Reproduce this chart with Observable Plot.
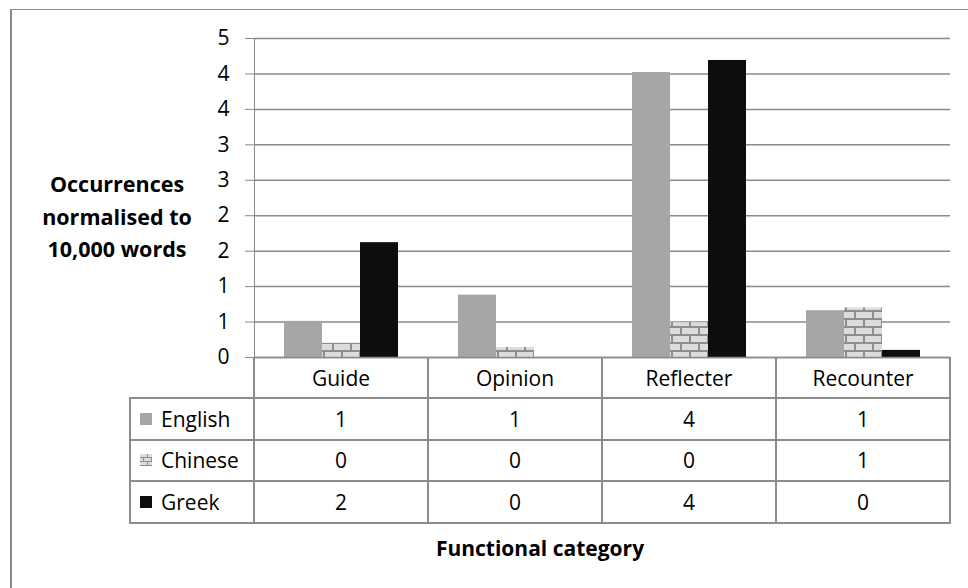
<!DOCTYPE html>
<html><head><meta charset="utf-8">
<script src="https://cdn.jsdelivr.net/npm/d3@7"></script>
<script src="https://cdn.jsdelivr.net/npm/@observablehq/plot@0.6"></script>
<style>
body{margin:0;background:#fff;overflow:hidden;font-family:"Open Sans",sans-serif;}
#wrap{position:relative;width:968px;height:588px;overflow:hidden;background:#fff;}
#frame{position:absolute;left:10px;top:9px;width:1000px;height:700px;border-left:2px solid #8a8a8a;border-top:1.5px solid #8a8a8a;pointer-events:none;z-index:5;}
.ab{position:absolute;}
.hl{position:absolute;height:2px;background:#8c8c8c;}
.vl{position:absolute;width:2px;background:#8c8c8c;}
.cell{position:absolute;display:flex;align-items:center;justify-content:center;font-size:21px;color:#000;white-space:nowrap;}
.ytitle{position:absolute;left:27px;top:168px;width:180px;text-align:center;font-weight:bold;font-size:21.5px;line-height:32.5px;color:#000;}
.xtitle{position:absolute;left:340px;top:532px;width:400px;text-align:center;font-weight:bold;font-size:21px;line-height:32px;color:#000;}
</style></head>
<body><div id="wrap"><div id="chart" class="ab" style="left:0;top:0"></div><div id="frame"></div></div>
<script>
const categories = ["Guide", "Opinion", "Reflecter", "Recounter"];
const series = ["English", "Chinese", "Greek"];
const english = [0.51, 0.88, 4.02, 0.66];
const chinese = [0.20, 0.14, 0.49, 0.70];
const greek = [1.62, 0, 4.19, 0.10];
const yTicks = [0, 0.5, 1, 1.5, 2, 2.5, 3, 3.5, 4, 4.5];
const colors = ["#a6a6a6", "url(#brick)", "#0d0d0d"];
const yTitle = ["Occurrences", "normalised to", "10,000 words"];
const xTitle = "Functional category";

const values = [english, chinese, greek];
const rows = categories.flatMap((c, i) => series.map((s, j) => ({category: c, series: s, value: values[j][i]})));

const plot = Plot.plot({
  width: 968, height: 360,
  marginLeft: 253, marginRight: 18, marginTop: 38, marginBottom: 3,
  style: {background: "transparent", color: "#8a8a8a", fontFamily: "Open Sans", fontSize: "21px", overflow: "visible"},
  facet: {data: rows, x: "category"},
  fx: {domain: categories, padding: 0, axis: null},
  x: {domain: series, paddingInner: 0, paddingOuter: 0.75, axis: null},
  y: {domain: [0, 4.5], ticks: yTicks, tickFormat: d => Math.round(d), tickSize: 9, tickPadding: 16, line: true, label: null},
  color: {domain: series, range: colors},
  marks: [
    Plot.ruleY(yTicks, {stroke: "#8a8a8a", strokeWidth: 1.5}),
    Plot.barY(rows, {x: "series", y: "value", fill: "series"}),
    Plot.ruleY([0], {stroke: "#8a8a8a", strokeWidth: 1.5})
  ]
});

const svg = d3.select(plot);
svg.selectAll("text").attr("fill", "#000").attr("stroke", "none");
const defs = svg.insert("defs", ":first-child");
function brick(id, w, h, bw, bh) {
  const p = defs.append("pattern").attr("id", id).attr("patternUnits", "userSpaceOnUse")
    .attr("width", w).attr("height", h);
  p.append("rect").attr("width", w).attr("height", h).attr("fill", "#8e8e8e");
  p.append("rect").attr("x", 0).attr("y", 0).attr("width", bw).attr("height", bh).attr("fill", "#dcdcdc");
  p.append("rect").attr("x", -w / 2).attr("y", h / 2).attr("width", bw).attr("height", bh).attr("fill", "#dcdcdc");
  p.append("rect").attr("x", w / 2).attr("y", h / 2).attr("width", bw).attr("height", bh).attr("fill", "#dcdcdc");
}
brick("brick", 18, 16, 16, 6);
brick("brickS", 8, 8, 7, 3);
document.getElementById("chart").appendChild(plot);

// data table under the chart, columns from the fx scale
const wrap = document.getElementById("wrap");
const fx = plot.scale("fx");
const bw = fx.bandwidth;
const colX = categories.map(c => fx.apply(c));
const left0 = colX[0];
const right0 = colX[colX.length - 1] + bw;
const labelLeft = 130;
const headTop = 357, headH = 41, rowH = 41.5;
const rowTop = i => headTop + headH + i * rowH;
const bottom = rowTop(series.length);

function add(cls, css, html) {
  const d = document.createElement("div");
  d.className = cls;
  Object.assign(d.style, css);
  if (html != null) d.innerHTML = html;
  wrap.appendChild(d);
  return d;
}
// horizontal lines
for (let i = 0; i <= series.length; i++) {
  add("hl", {left: labelLeft - 1 + "px", top: rowTop(i) - 1 + "px", width: right0 - labelLeft + 2 + "px"});
}
// vertical lines
add("vl", {left: labelLeft - 1 + "px", top: rowTop(0) - 1 + "px", height: bottom - rowTop(0) + 2 + "px"});
add("vl", {left: left0 - 1 + "px", top: headTop + "px", height: bottom - headTop + 1 + "px"});
colX.forEach((x, i) => add("vl", {left: x + bw - 1 + "px", top: headTop + "px", height: bottom - headTop + 1 + "px"}));
// header
categories.forEach((c, i) => add("cell", {left: colX[i] + "px", top: headTop + "px", width: bw + "px", height: headH + "px"}, c));
// rows
const swatch = [
  '<span style="display:inline-block;width:12px;height:12px;background:#a6a6a6"></span>',
  '<svg width="12" height="12" style="display:block"><rect width="12" height="12" fill="url(#brickS)"/></svg>',
  '<span style="display:inline-block;width:12px;height:12px;background:#0d0d0d"></span>'
];
series.forEach((s, j) => {
  add("cell", {left: "140px", top: rowTop(j) + "px", width: "12px", height: rowH + "px"}, swatch[j]);
  add("cell", {left: "161px", top: rowTop(j) + "px", height: rowH + "px", justifyContent: "flex-start"}, s);
  categories.forEach((c, i) => add("cell", {left: colX[i] + "px", top: rowTop(j) + "px", width: bw + "px", height: rowH + "px"}, String(Math.round(values[j][i]))));
});
// titles
add("ytitle", {}, yTitle.join("<br>"));
const xt = add("xtitle", {}, xTitle);
xt.style.left = (labelLeft + right0) / 2 - 200 + "px";
</script>
</body></html>
